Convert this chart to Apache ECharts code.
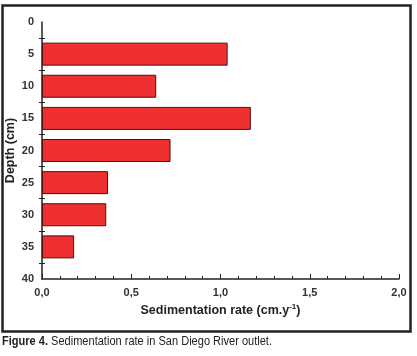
<!DOCTYPE html>
<html><head><meta charset="utf-8">
<script src="https://cdn.jsdelivr.net/npm/echarts@6/dist/echarts.min.js"></script>
<style>html,body{margin:0;padding:0;background:#fff}#c{width:417px;height:356px}</style>
</head><body><div id="c"></div>
<script>
const depthLabels = ['0','5','10','15','20','25','30','35','40'];
const rates = [null, 1.04, 0.64, 1.17, 0.72, 0.37, 0.36, 0.18, null];
const xTicks = [0, 0.5, 1.0, 1.5, 2.0];
const chart = echarts.init(document.getElementById('c'), null, {renderer:'canvas'});
const FF = 'Liberation Sans, Arial, sans-serif';
const lab = {fontFamily:FF, fontWeight:'bold', fontSize:11, color:'#333'};
chart.setOption({
  animation:false,
  backgroundColor:'#fff',
  grid:{left:42, right:18, top:22, bottom:77, containLabel:false, outerBoundsMode:'none'},
  xAxis:{type:'value', min:xTicks[0], max:xTicks[xTicks.length-1], interval:0.5,
    axisLine:{onZero:false, lineStyle:{color:'#222', width:1.5}},
    axisTick:{inside:true, length:5, lineStyle:{color:'#222'}},
    minorTick:{show:true, splitNumber:5, length:3, lineStyle:{color:'#222'}},
    splitLine:{show:false},
    axisLabel:Object.assign({margin:8, formatter:v=>v.toFixed(1).replace('.',',')}, lab),
    name:'{a|Sedimentation rate (cm.y}{s|-1}{a|)}', nameLocation:'middle', nameGap:24, nameMoveOverlap:false,
    nameTextStyle:{rich:{a:{fontFamily:FF, fontWeight:'bold', fontSize:12.5, color:'#222', lineHeight:16},
                         s:{fontFamily:FF, fontWeight:'bold', fontSize:8, color:'#222', lineHeight:8, padding:[0,0,8,0]}}}
  },
  yAxis:[
    {type:'category', data:depthLabels, boundaryGap:false, inverse:true, position:'left',
     axisLine:{onZero:false, lineStyle:{color:'#222', width:1.5}},
     axisTick:{show:false},
     axisLabel:Object.assign({margin:8}, lab),
     name:'Depth (cm)', nameLocation:'middle', nameGap:25, nameMoveOverlap:false,
     nameTextStyle:{fontFamily:FF, fontWeight:'bold', fontSize:12.5, color:'#222'}},
    {type:'value', min:0, max:40, interval:5, inverse:true, position:'left',
     axisLine:{show:false, onZero:false}, axisLabel:{show:false}, splitLine:{show:false},
     axisTick:{show:false, inside:false},
     minorTick:{show:true, splitNumber:2, length:3, lineStyle:{color:'#222'}}},
    {type:'value', min:0, max:40, interval:5, inverse:true, position:'left',
     axisLine:{show:false, onZero:false}, axisLabel:{show:false}, splitLine:{show:false},
     axisTick:{show:false, inside:true},
     minorTick:{show:true, splitNumber:2, length:3, lineStyle:{color:'#222'}}}
  ],
  series:[{type:'bar', yAxisIndex:0, data:rates, barWidth:23,
    itemStyle:{color:'#ee3030', borderColor:'#4a1212', borderWidth:1}}],
  graphic:[
    {type:'rect', shape:{x:2.5, y:5.5, width:408, height:326}, style:{fill:'none', stroke:'#222', lineWidth:2.5}, silent:true},
    {type:'text', x:2, y:336, scaleX:0.92, style:{text:'{b|Figure 4.} {n|Sedimentation rate in San Diego River outlet.}',
      rich:{b:{fontFamily:FF, fontWeight:'bold', fontSize:12, fill:'#222'},
            n:{fontFamily:FF, fontSize:12, fill:'#222'}}}}
  ]
});
</script></body></html>
